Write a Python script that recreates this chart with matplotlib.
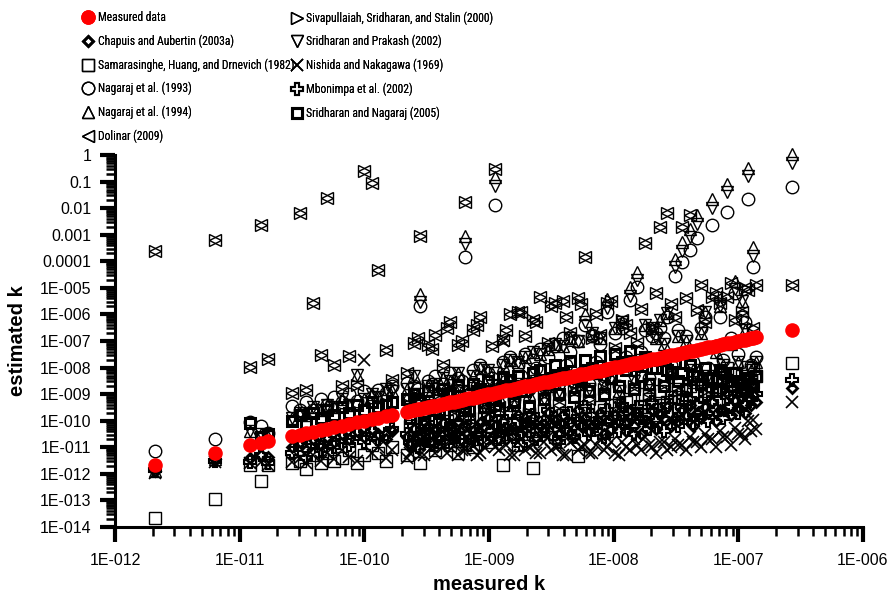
import numpy as np
import matplotlib.pyplot as plt
from matplotlib.ticker import FixedLocator, LogLocator, NullFormatter

plt.rcParams['font.family'] = ['Liberation Sans', 'DejaVu Sans']

# all k values are stored as log10(k); the second block of each list holds
# the samples that sit in between the first block in the dense range
measured_exp = [
    -11.68, -11.20, -10.92, -10.83, -10.77,
    -10.58, -10.52, -10.47, -10.41, -10.35, -10.30, -10.24, -10.18, -10.12, -10.06, -10.00, -9.94, -9.89, -9.83, -9.78,
    -9.66, -9.60, -9.55, -9.49, -9.43, -9.37, -9.31, -9.25, -9.19, -9.13, -9.07, -9.01,
    -8.95, -8.89, -8.83, -8.77, -8.71, -8.65, -8.59, -8.53, -8.47, -8.41, -8.35, -8.29,
    -8.23, -8.17, -8.11, -8.05, -7.99, -7.93, -7.87, -7.81, -7.75, -7.69, -7.63, -7.57,
    -7.51, -7.45, -7.39, -7.33, -7.27, -7.21, -7.15, -7.09, -7.03, -6.97, -6.92, -6.88,
    -6.57,
    -9.63, -9.57, -9.52, -9.46, -9.40, -9.34, -9.28, -9.22, -9.16, -9.10, -9.04, -8.98,
    -8.92, -8.86, -8.80, -8.74, -8.68, -8.62, -8.56, -8.50, -8.44, -8.38, -8.32, -8.26,
    -8.20, -8.14, -8.08, -8.02, -7.96, -7.90, -7.84, -7.78, -7.72, -7.66, -7.60, -7.54,
    -7.48, -7.42, -7.36, -7.30, -7.24, -7.18, -7.12, -7.06, -7.00, -6.95, -6.90, -6.86]

chapuis_exp = [
    -11.9, -11.45, -11.4, -11.3, -11.35,
    -11.0, -10.8, -11.1, -10.7, -10.9, -10.6, -10.8, -10.5, -10.7, -10.4, -10.6, -10.3, -10.5, -10.7, -10.4,
    -10.6, -10.3, -10.5, -10.2, -10.4, -10.1, -10.3, -10.0, -10.2, -10.4, -10.1, -9.9,
    -10.2, -10.0, -10.3, -9.8, -10.1, -9.9, -10.2, -9.7, -10.0, -9.8, -10.1, -9.6,
    -9.9, -10.2, -9.7, -10.0, -9.8, -9.5, -9.9, -9.7, -10.0, -9.6, -9.8, -9.5,
    -9.9, -9.6, -9.4, -9.7, -9.5, -9.3, -9.6, -8.95, -9.27, -9.1, -8.76, -9.02,
    -8.77,
    -10.9, -10.6, -10.8, -10.5, -10.7, -10.4, -10.6, -10.3, -10.7, -10.5, -10.2, -10.6,
    -10.4, -10.7, -10.3, -10.5, -10.2, -10.6, -10.4, -10.1, -10.5, -10.3, -10.6, -10.2,
    -10.4, -10.1, -10.5, -10.3, -10.0, -10.4, -10.2, -10.5, -10.1, -10.3, -9.9, -10.2,
    -10.0, -9.8, -10.2, -9.9, -9.7, -10.0, -9.6, -9.8, -9.5, -9.7, -9.4, -9.3]

samarasinghe_exp = [
    -13.65, -12.93, -11.65, -12.28, -11.65,
    -11.6, -11.5, -11.8, -11.3, -11.6, -11.2, -11.5, -11.4, -11.1, -11.6, -11.3, -10.9, -11.2, -11.5, -11.0,
    -11.3, -10.9, -11.6, -10.7, -11.1, -10.5, -10.9, -11.2, -10.6, -11.0, -10.4, -10.8,
    -8.2, -11.65, -10.5, -10.9, -10.2, -11.77, -10.4, -10.0, -10.6, -9.8, -10.3, -11.34,
    -9.7, -10.1, -9.5, -10.4, -9.4, -9.9, -9.2, -9.7, -9.0, -9.5, -8.9, -9.3,
    -8.8, -9.1, -8.7, -8.9, -8.5, -8.8, -8.4, -8.02, -8.2, -8.3, -7.96, -8.0,
    -7.83,
    -10.2, -10.6, -9.9, -10.4, -10.8, -10.0, -10.5, -9.8, -10.3, -10.7, -9.9, -10.2,
    -10.6, -9.7, -10.1, -10.5, -9.8, -10.3, -9.6, -10.0, -10.4, -9.7, -10.1, -9.5,
    -9.9, -10.3, -9.6, -9.4, -10.0, -9.3, -9.7, -9.5, -9.2, -9.8, -9.4, -9.1,
    -9.6, -9.3, -9.0, -9.5, -8.9, -9.2, -8.8, -9.1, -8.6, -8.9, -8.5, -8.3]

nagaraj93_exp = [
    -11.15, -10.68, -10.03, -10.2, -10.45,
    -9.46, -9.6, -9.3, -9.59, -9.2, -9.4, -9.1, -9.3, -9.0, -9.27, -8.9, -9.1, -8.85, -8.95, -8.7,
    -8.57, -8.7, -5.7, -8.5, -8.3, -8.6, -8.2, -8.4, -3.82, -8.1, -7.9, -8.2,
    -1.88, -7.8, -7.6, -7.9, -7.5, -7.7, -7.3, -7.6, -7.2, -6.9, -7.4, -7.0,
    -6.39, -6.8, -7.1, -5.9, -6.7, -6.5, -5.45, -4.95, -6.6, -6.8, -6.5, -6.08,
    -4.55, -4.01, -3.57, -3.13, -6.1, -2.63, -6.1, -2.15, -5.2, -6.08, -1.65, -4.2,
    -1.19,
    -9.2, -8.8, -9.6, -8.6, -9.1, -8.9, -9.4, -8.5, -9.0, -8.7, -9.3, -8.4,
    -8.9, -8.5, -9.2, -8.3, -8.8, -8.0, -8.7, -8.4, -9.0, -7.9, -8.5, -8.2,
    -8.6, -7.8, -8.3, -8.0, -8.7, -7.6, -8.1, -7.4, -8.4, -6.7, -6.9, -7.9,
    -6.6, -6.8, -7.8, -6.5, -8.0, -7.2, -7.7, -6.9, -7.5, -6.3, -7.9, -7.6]

nagaraj94_exp = [
    -11.9, -11.45, -10.4, -10.5, -10.6,
    -9.9, -9.7, -9.8, -9.5, -9.6, -9.4, -9.5, -9.2, -9.4, -8.27, -9.2, -9.0, -9.1, -8.8, -8.9,
    -8.8, -8.33, -5.23, -8.7, -8.6, -8.4, -8.5, -8.2, -3.04, -8.3, -8.0, -8.1,
    -0.84, -7.9, -7.7, -7.8, -7.6, -7.4, -7.5, -7.3, -7.1, -7.2, -6.9, -7.0,
    -5.98, -6.7, -6.9, -5.42, -6.5, -6.3, -4.98, -4.39, -6.4, -6.5, -6.2, -5.95,
    -3.91, -3.29, -2.78, -2.26, -5.9, -1.66, -5.7, -1.09, -4.73, -5.5, -0.47, -3.47,
    0.03,
    -9.5, -9.0, -9.3, -8.8, -9.6, -9.1, -9.4, -8.9, -9.2, -9.0, -9.5, -8.7,
    -9.1, -8.8, -9.4, -8.6, -9.0, -8.5, -9.2, -8.7, -8.9, -8.3, -8.8, -8.6,
    -8.8, -8.2, -8.7, -8.4, -8.9, -7.9, -8.5, -7.7, -8.6, -6.9, -7.1, -8.2,
    -6.8, -7.0, -8.1, -6.7, -8.3, -7.4, -7.9, -7.1, -7.8, -6.6, -8.1, -7.8]

prakash_exp = [
    -11.9, -11.45, -10.4, -10.5, -10.6,
    -9.9, -9.7, -9.8, -9.5, -9.6, -9.4, -9.5, -9.2, -9.4, -8.27, -9.2, -9.0, -9.1, -8.8, -8.9,
    -8.8, -8.33, -5.55, -8.7, -8.6, -8.4, -8.5, -8.2, -3.36, -8.3, -8.0, -8.1,
    -1.16, -7.9, -7.7, -7.8, -7.6, -7.4, -7.5, -7.3, -7.1, -7.2, -6.9, -7.0,
    -6.30, -6.7, -6.9, -5.74, -6.5, -6.3, -5.30, -4.71, -6.4, -6.5, -6.2, -5.95,
    -4.23, -3.61, -3.10, -2.58, -5.9, -1.98, -5.7, -1.41, -5.05, -5.5, -0.79, -3.79,
    -0.29,
    -9.5, -9.0, -9.3, -8.8, -9.6, -9.1, -9.4, -8.9, -9.2, -9.0, -9.5, -8.7,
    -9.1, -8.8, -9.4, -8.6, -9.0, -8.5, -9.2, -8.7, -8.9, -8.3, -8.8, -8.6,
    -8.8, -8.2, -8.7, -8.4, -8.9, -7.9, -8.5, -7.7, -8.6, -6.9, -7.1, -8.2,
    -6.8, -7.0, -8.1, -6.7, -8.3, -7.4, -7.9, -7.1, -7.8, -6.6, -8.1, -7.8]

dolinar_exp = [
    -3.6, -3.2, -7.96, -2.63, -7.68,
    -8.96, -2.17, -8.83, -5.58, -7.52, -1.62, -7.89, -8.71, -7.56, -8.65, -0.59, -1.06, -4.32, -7.33, -8.46,
    -8.2, -7.08, -3.04, -7.14, -6.77, -7.89, -6.27, -7.14, -1.75, -6.58, -6.08, -9.46,
    -0.53, -6.95, -6.0, -5.89, -6.83, -6.2, -5.33, -7.08, -5.58, -5.51, -6.7, -5.39,
    -3.82, -6.89, -6.77, -5.58, -7.27, -6.2, -6.7, -7.08, -3.32, -6.5, -2.7, -2.19,
    -6.08, -2.7, -2.26, -5.83, -6.3, -5.33, -5.58, -5.33, -6.2, -5.9, -5.08, -6.5,
    -4.89,
    -9.4, -6.9, -9.8, -7.3, -9.2, -6.5, -9.6, -7.0, -9.9, -6.4, -9.3, -7.2,
    -9.5, -6.6, -9.1, -5.9, -9.7, -6.3, -9.0, -5.7, -9.4, -6.1, -8.9, -5.6,
    -9.2, -6.0, -8.8, -5.5, -9.3, -6.4, -8.7, -5.8, -9.0, -5.2, -8.6, -5.6,
    -8.9, -5.4, -8.5, -4.9, -8.8, -5.2, -8.4, -4.8, -8.6, -5.0, -8.5, -4.9]

# Sivapullaiah et al. give the same estimates as Dolinar for these samples
sivapullaiah_exp = dolinar_exp

nishida_exp = [
    -11.95, -11.55, -11.6, -11.55, -11.65,
    -11.55, -11.4, -11.6, -11.3, -11.5, -11.2, -11.45, -11.1, -11.35, -11.5, -7.7, -11.2, -11.0, -11.4, -11.1,
    -11.4, -11.1, -11.3, -10.9, -11.2, -11.0, -10.8, -11.3, -11.1, -10.9, -11.2, -10.7,
    -11.0, -7.0, -11.3, -10.8, -11.1, -10.9, -11.2, -10.6, -11.0, -11.3, -10.8, -11.1,
    -10.9, -11.2, -10.7, -11.0, -11.2, -10.8, -11.1, -10.9, -10.6, -11.0, -10.8, -11.1,
    -10.7, -10.9, -10.6, -10.8, -10.5, -10.7, -10.4, -10.6, -10.28, -10.5, -10.0, -9.96,
    -9.3,
    -11.2, -10.9, -11.3, -11.0, -10.8, -11.2, -10.9, -11.1, -10.7, -11.3, -11.0, -10.8,
    -11.1, -10.9, -11.3, -10.7, -11.0, -11.2, -10.8, -11.1, -10.9, -11.3, -10.7, -11.0,
    -11.2, -10.9, -11.1, -10.8, -11.3, -11.0, -10.7, -11.1, -10.9, -11.2, -10.8, -11.0,
    -10.9, -11.1, -10.8, -11.0, -10.7, -11.0, -10.6, -10.9, -10.5, -10.7, -10.4, -10.3]

mbonimpa_exp = [
    -11.85, -11.5, -11.55, -11.3, -11.6,
    -11.2, -10.9, -11.4, -10.8, -11.1, -10.7, -11.0, -10.6, -10.9, -10.5, -10.8, -10.4, -10.7, -10.5, -10.3,
    -10.5, -10.2, -10.7, -10.1, -10.4, -10.0, -10.3, -10.6, -9.9, -10.2, -10.5, -9.8,
    -10.1, -10.4, -9.7, -10.0, -10.3, -9.8, -10.1, -9.6, -9.9, -10.2, -9.7, -10.0,
    -9.5, -9.8, -10.1, -9.6, -9.9, -9.4, -9.7, -9.5, -9.8, -9.3, -9.6, -9.4,
    -9.1, -9.5, -9.2, -9.4, -9.0, -9.3, -8.9, -9.1, -8.8, -8.9, -8.52, -8.7,
    -8.46,
    -10.8, -11.0, -10.6, -10.9, -10.5, -10.8, -10.4, -10.7, -10.9, -10.5, -10.8, -10.4,
    -10.7, -10.3, -10.6, -10.9, -10.4, -10.7, -10.2, -10.5, -10.8, -10.3, -10.6, -10.1,
    -10.5, -10.2, -10.6, -10.0, -10.4, -10.1, -10.5, -9.9, -10.3, -10.0, -10.4, -9.8,
    -10.2, -9.9, -10.1, -9.7, -10.0, -9.6, -9.9, -9.5, -9.7, -9.4, -9.2, -9.0]

sridharan_nagaraj_exp = [
    np.nan, np.nan, -10.08, -10.6, -10.5,
    -10.0, -9.8, -10.1, -9.7, -9.9, -9.6, -9.8, -9.5, -9.7, -9.4, -9.6, -9.3, -9.5, -9.4, -9.3,
    -9.2, -9.0, -9.3, -8.9, -9.6, -8.8, -9.0, -8.7, -9.5, -8.6, -8.8, -8.5,
    -9.4, -8.4, -8.46, -8.3, -8.9, -8.2, -8.1, -8.6, -7.9, -8.2, -7.77, -8.4,
    -7.7, -8.0, -7.58, -8.1, -7.5, -7.8, -7.39, -7.9, -7.6, -8.0, -7.7, -8.1,
    -7.8, -8.2, -7.9, -8.3, -8.0, -8.4, -8.1, -8.5, -8.2, -8.6, -8.4, -8.7,
    np.nan,
    -9.9, -9.2, -10.1, -9.4, -9.7, -9.0, -9.8, -9.3, -9.6, -8.9, -9.5, -9.2,
    -9.6, -8.7, -9.3, -8.9, -9.5, -8.6, -9.2, -8.4, -9.0, -8.3, -9.1, -8.5,
    -8.9, -8.2, -9.0, -8.4, -8.7, -8.1, -8.8, -8.3, -8.6, -8.0, -8.7, -8.2,
    -8.5, -8.8, -8.3, -8.6, -8.4, -8.9, -8.2, -8.7, -8.5, -8.8, -8.6, -8.3]

x_ticks = [1e-12, 1e-11, 1e-10, 1e-9, 1e-8, 1e-7, 1e-6]
x_tick_labels = ['1E-012', '1E-011', '1E-010', '1E-009', '1E-008', '1E-007', '1E-006']
y_ticks = [1, 0.1, 0.01, 0.001, 1e-4, 1e-5, 1e-6, 1e-7, 1e-8, 1e-9, 1e-10,
           1e-11, 1e-12, 1e-13, 1e-14]
y_tick_labels = ['1', '0.1', '0.01', '0.001', '0.0001', '1E-005', '1E-006', '1E-007',
                 '1E-008', '1E-009', '1E-010', '1E-011', '1E-012', '1E-013', '1E-014']

k_meas = 10.0 ** np.array(measured_exp)

# (label, values, marker, size, edge width)
methods = [
    ('Chapuis and Aubertin (2003a)', chapuis_exp, 'D', 5.5, 2.0),
    ('Samarasinghe, Huang, and Drnevich (1982)', samarasinghe_exp, 's', 8.5, 1.0),
    ('Nagaraj et al. (1993)', nagaraj93_exp, 'o', 9, 1.0),
    ('Nagaraj et al. (1994)', nagaraj94_exp, '^', 8.5, 1.0),
    ('Dolinar (2009)', dolinar_exp, '<', 8.5, 1.0),
    ('Sivapullaiah, Sridharan, and Stalin (2000)', sivapullaiah_exp, '>', 8.5, 1.0),
    ('Sridharan and Prakash (2002)', prakash_exp, 'v', 8.5, 1.0),
    ('Nishida and Nakagawa (1969)', nishida_exp, 'x', 8, 1.2),
    ('Mbonimpa et al. (2002)', mbonimpa_exp, 'P', 9, 1.5),
    ('Sridharan and Nagaraj (2005)', sridharan_nagaraj_exp, 's', 7.5, 2.2),
]

for vals in [m[1] for m in methods]:
    assert len(vals) == len(measured_exp)

fig = plt.figure(figsize=(8.93, 5.99), dpi=100)
ax = fig.add_axes([0.1288, 0.1202, 0.8376, 0.6210])

handles = {}
for label, vals, mk, ms, mew in methods:
    h, = ax.plot(k_meas, 10.0 ** np.array(vals), linestyle='none', marker=mk,
                 markersize=ms, markerfacecolor='none', markeredgecolor='black',
                 markeredgewidth=mew, label=label, clip_on=False)
    handles[label] = h

h_meas, = ax.plot(k_meas, k_meas, linestyle='none', marker='o', markersize=10.5,
                  color='#ff0000', markeredgecolor='none', label='Measured data',
                  zorder=5, clip_on=False)
handles['Measured data'] = h_meas

ax.set_xscale('log')
ax.set_yscale('log')
ax.set_xlim(1e-12, 1e-6)
ax.set_ylim(1e-14, 1)

ax.xaxis.set_major_locator(FixedLocator(x_ticks))
ax.set_xticklabels(x_tick_labels)
ax.yaxis.set_major_locator(FixedLocator(y_ticks))
ax.set_yticklabels(y_tick_labels)
for axis in (ax.xaxis, ax.yaxis):
    axis.set_minor_locator(LogLocator(base=10, subs=np.arange(2, 10), numticks=200))
    axis.set_minor_formatter(NullFormatter())

for side in ('top', 'right'):
    ax.spines[side].set_visible(False)
for side in ('left', 'bottom'):
    ax.spines[side].set_linewidth(2.2)

ax.tick_params(axis='both', which='major', direction='out', width=3, length=11,
               labelsize=11.5)
ax.tick_params(axis='both', which='minor', direction='out', width=1.8, length=6.5)
ax.tick_params(axis='y', which='major', pad=6)
ax.tick_params(axis='x', which='major', pad=8)

ax.set_xlabel('measured k', fontsize=14.5, fontweight='bold')
ax.set_ylabel('estimated k', fontsize=14.5, fontweight='bold')
ax.xaxis.set_label_coords(0.5, -0.128)
ax.yaxis.set_label_coords(-0.118, 0.5)

col1 = ['Measured data', 'Chapuis and Aubertin (2003a)', 'Samarasinghe, Huang, and Drnevich (1982)',
        'Nagaraj et al. (1993)', 'Nagaraj et al. (1994)', 'Dolinar (2009)']
col2 = ['Sivapullaiah, Sridharan, and Stalin (2000)', 'Sridharan and Prakash (2002)',
        'Nishida and Nakagawa (1969)', 'Mbonimpa et al. (2002)', 'Sridharan and Nagaraj (2005)']

leg_font = {'family': ['Roboto Condensed', 'Liberation Sans'], 'size': 8.4}
for names, x0 in ((col1, 0.0909), (col2, 0.3244)):
    leg = fig.legend(handles=[handles[n] for n in names], labels=names,
                     loc='upper left', bbox_to_anchor=(x0, 0.981), frameon=False,
                     prop=leg_font, handlelength=1.2, handletextpad=0.2,
                     labelspacing=0.88, borderpad=0, borderaxespad=0)
    fig.add_artist(leg)

fig.savefig('out.png', dpi=100)
